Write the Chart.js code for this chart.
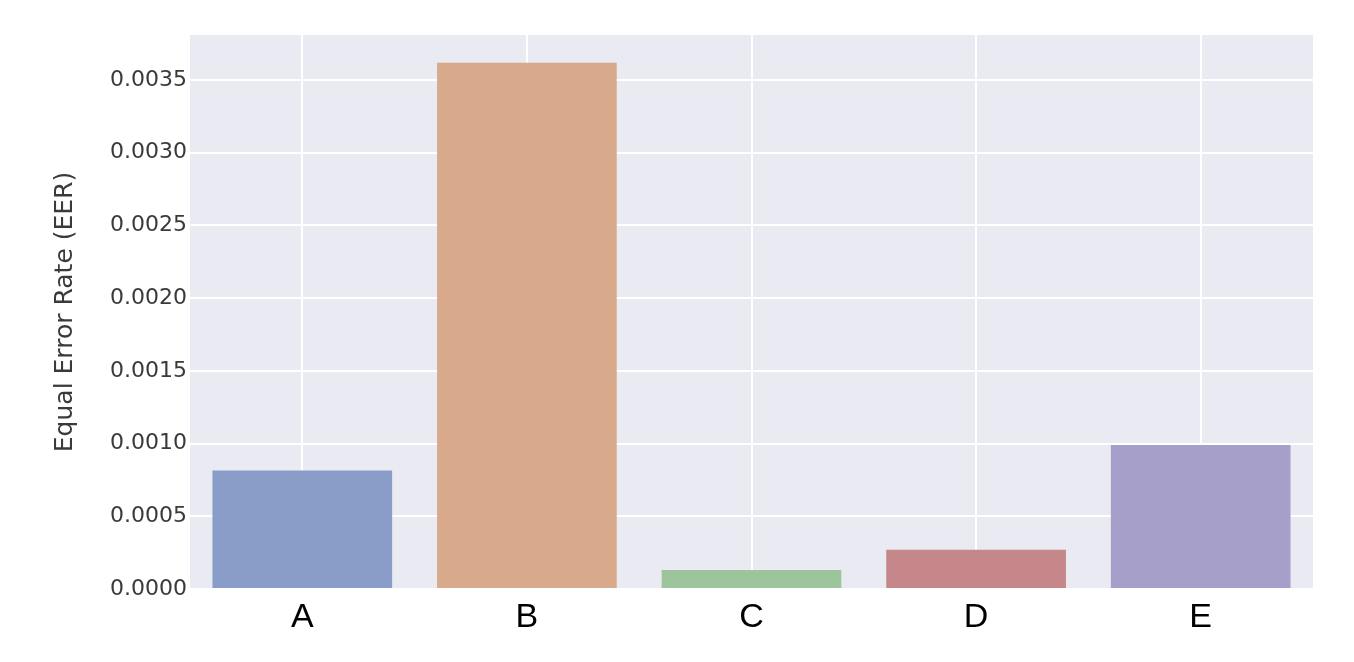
<!DOCTYPE html>
<html>
<head>
<meta charset="utf-8">
<script src="https://cdn.jsdelivr.net/npm/chart.js@4/dist/chart.umd.min.js"></script>
<style>
  html, body { margin: 0; padding: 0; background: #ffffff; }
  #wrap { width: 1354px; height: 662px; }
</style>
</head>
<body>
<div id="wrap"><canvas id="eerChart"></canvas></div>
<script>
// datos
var categories = ['A', 'B', 'C', 'D', 'E'];
var eerValues = [0.000815, 0.00362, 0.00013, 0.00027, 0.00099];
var barColors = ['#8a9dc8', '#d8a98a', '#9dc49b', '#c58789', '#a59fc9'];
var yTickStep = 0.0005;
var yMax = 0.00381;

// fondo gris del area del grafico (estilo seaborn)
var plotBackground = {
    id: 'plotBackground',
    beforeDraw: function(chart) {
        var area = chart.chartArea;
        var ctx = chart.ctx;
        ctx.save();
        ctx.fillStyle = '#eaeaf2';
        ctx.fillRect(area.left, area.top, area.right - area.left, area.bottom - area.top);
        ctx.restore();
    }
};

var ctx = document.getElementById('eerChart').getContext('2d');
var eerChart = new Chart(ctx, {
    type: 'bar',
    data: {
        labels: categories,
        datasets: [{
            data: eerValues,
            backgroundColor: barColors,
            borderWidth: 0,
            barPercentage: 0.8,
            categoryPercentage: 1.0
        }]
    },
    options: {
        responsive: true,
        maintainAspectRatio: false,
        animation: false,
        layout: { padding: { left: 0, right: 41, top: 35, bottom: 0 } },
        plugins: {
            legend: { display: false },
            tooltip: { enabled: false }
        },
        scales: {
            x: {
                grid: { color: '#ffffff', lineWidth: 2, offset: false, drawTicks: false },
                border: { display: false },
                ticks: {
                    color: '#000000',
                    font: { family: 'Liberation Sans, Arial, sans-serif', size: 34 },
                    padding: 8
                },
                afterFit: function(scale) { scale.height = 73; }
            },
            y: {
                min: 0,
                max: yMax,
                grid: { color: '#ffffff', lineWidth: 2, drawTicks: false },
                border: { display: false },
                ticks: {
                    stepSize: yTickStep,
                    color: '#3a3a3a',
                    font: { family: 'DejaVu Sans, sans-serif', size: 22 },
                    padding: 3,
                    callback: function(value) { return Number(value).toFixed(4); }
                },
                afterBuildTicks: function(scale) {
                    // quitar el tick extra que se agrega en el maximo
                    scale.ticks = scale.ticks.filter(function(t) {
                        var k = t.value / yTickStep;
                        return Math.abs(k - Math.round(k)) < 1e-6;
                    });
                },
                title: {
                    display: true,
                    text: 'Equal Error Rate (EER)',
                    color: '#3a3a3a',
                    font: { family: 'DejaVu Sans, sans-serif', size: 25 },
                    padding: { top: 50, bottom: 0 }
                },
                afterFit: function(scale) { scale.width = 190; }
            }
        }
    },
    plugins: [plotBackground]
});
</script>
</body>
</html>
